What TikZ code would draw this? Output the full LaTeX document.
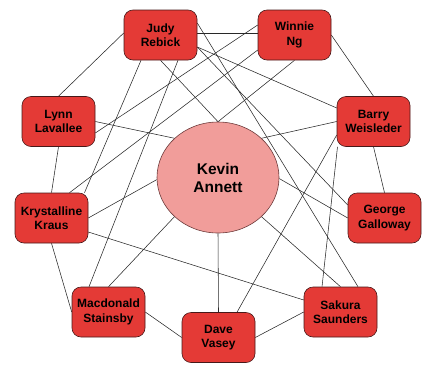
\documentclass[tikz,border=0pt]{standalone}
\usepackage{fontspec}
\setmainfont{Liberation Sans}
\usetikzlibrary{shapes.geometric,backgrounds}
\definecolor{boxred}{RGB}{228,58,54}
\definecolor{boxedge}{RGB}{70,25,25}
\definecolor{kevfill}{RGB}{241,157,154}
\definecolor{kevedge}{RGB}{110,60,60}
\definecolor{edgecol}{RGB}{40,40,40}
\tikzset{
  person/.style={draw=boxedge, line width=0.6pt, fill=boxred, rounded corners=9pt,
    minimum width=73pt, minimum height=50pt, inner sep=0pt, align=center,
    font=\fontsize{12}{14.5}\selectfont\bfseries},
  central/.style={draw=kevedge, line width=0.6pt, fill=kevfill, ellipse,
    minimum width=122pt, minimum height=111pt, inner sep=0pt, align=center,
    font=\fontsize{15.5}{18}\selectfont\bfseries},
  link/.style={draw=edgecol, line width=0.55pt}
}
\begin{document}
\begin{tikzpicture}[x=1pt,y=-1pt]
\useasboundingbox (0,0) rectangle (438,370);
\node[person] (judy) at (160.5,35) {Judy\\Rebick};
\node[person] (winnie) at (294.5,35) {Winnie\\Ng};
\node[person] (lynn) at (58.5,121.5) {Lynn\\Lavallee};
\node[person] (barry) at (373.5,121.5) {Barry\\Weisleder};
\node[person] (kryst) at (51.5,218) {Krystalline\\Kraus};
\node[person] (george) at (384.5,218) {George\\Galloway};
\node[person] (mac) at (108.5,312) {Macdonald\\Stainsby};
\node[person] (sakura) at (340.5,312) {Sakura\\Saunders};
\node[person] (dave) at (218.5,337.5) {Dave\\Vasey};
\node[central] (kevin) at (218,177.5) {Kevin\\Annett};
\begin{scope}[on background layer]
% outer ring
\draw[link] ([yshift=2pt]judy.east) -- ([yshift=2pt]winnie.west);
\draw[link] ([yshift=2pt]judy.west) -- (lynn.north);
\draw[link] (winnie.east) -- (barry.north);
\draw[link] (lynn.south) -- (kryst.north);
\draw[link] (barry.south) -- (george.north);
\draw[link] (kryst.south) -- (mac.west);
\draw[link] (mac.east) -- (dave.west);
\draw[link] (dave.east) -- (sakura.west);
% to Kevin
\draw[link] (judy.south) -- (kevin.90);
\draw[link] (winnie.south) -- (kevin.90);
\draw[link] (lynn.east) -- (kevin.138);
\draw[link] (barry.west) -- (kevin.42.6);
\draw[link] (kryst.east) -- (kevin.182);
\draw[link] (george.west) -- (kevin.-1);
\draw[link] (mac.north) -- (kevin.222.6);
\draw[link] (sakura.north) -- (kevin.-42.6);
\draw[link] (dave.north) -- (kevin.270);
% crossing edges
\draw[link] ([yshift=-14pt]kryst.east) -- ([yshift=12pt]sakura.west);
\draw[link] ([xshift=18pt]kryst.north) -- ([yshift=-15pt]winnie.west);
\draw[link] ([xshift=33pt]kryst.north) -- ([xshift=-19.5pt]judy.south);
\draw[link] ([xshift=17.5pt]judy.south) -- ([xshift=-19.5pt]mac.north);
\draw[link] ([yshift=10pt]winnie.west) -- ([yshift=-11.5pt]lynn.east);
\draw[link] ([yshift=-12pt]judy.east) -- ([yshift=13.5pt]barry.west);
\draw[link] ([yshift=-12pt]judy.east) -- ([yshift=13pt]george.west);
\draw[link] ([yshift=12pt]judy.east) -- ([xshift=17.5pt]sakura.north);
\draw[link] ([yshift=-13.5pt]barry.west) -- ([xshift=18.5pt]dave.north);
\draw[link] ([xshift=-36pt]barry.south) -- ([xshift=-18.5pt]sakura.north);
\end{scope}
\end{tikzpicture}
\end{document}
